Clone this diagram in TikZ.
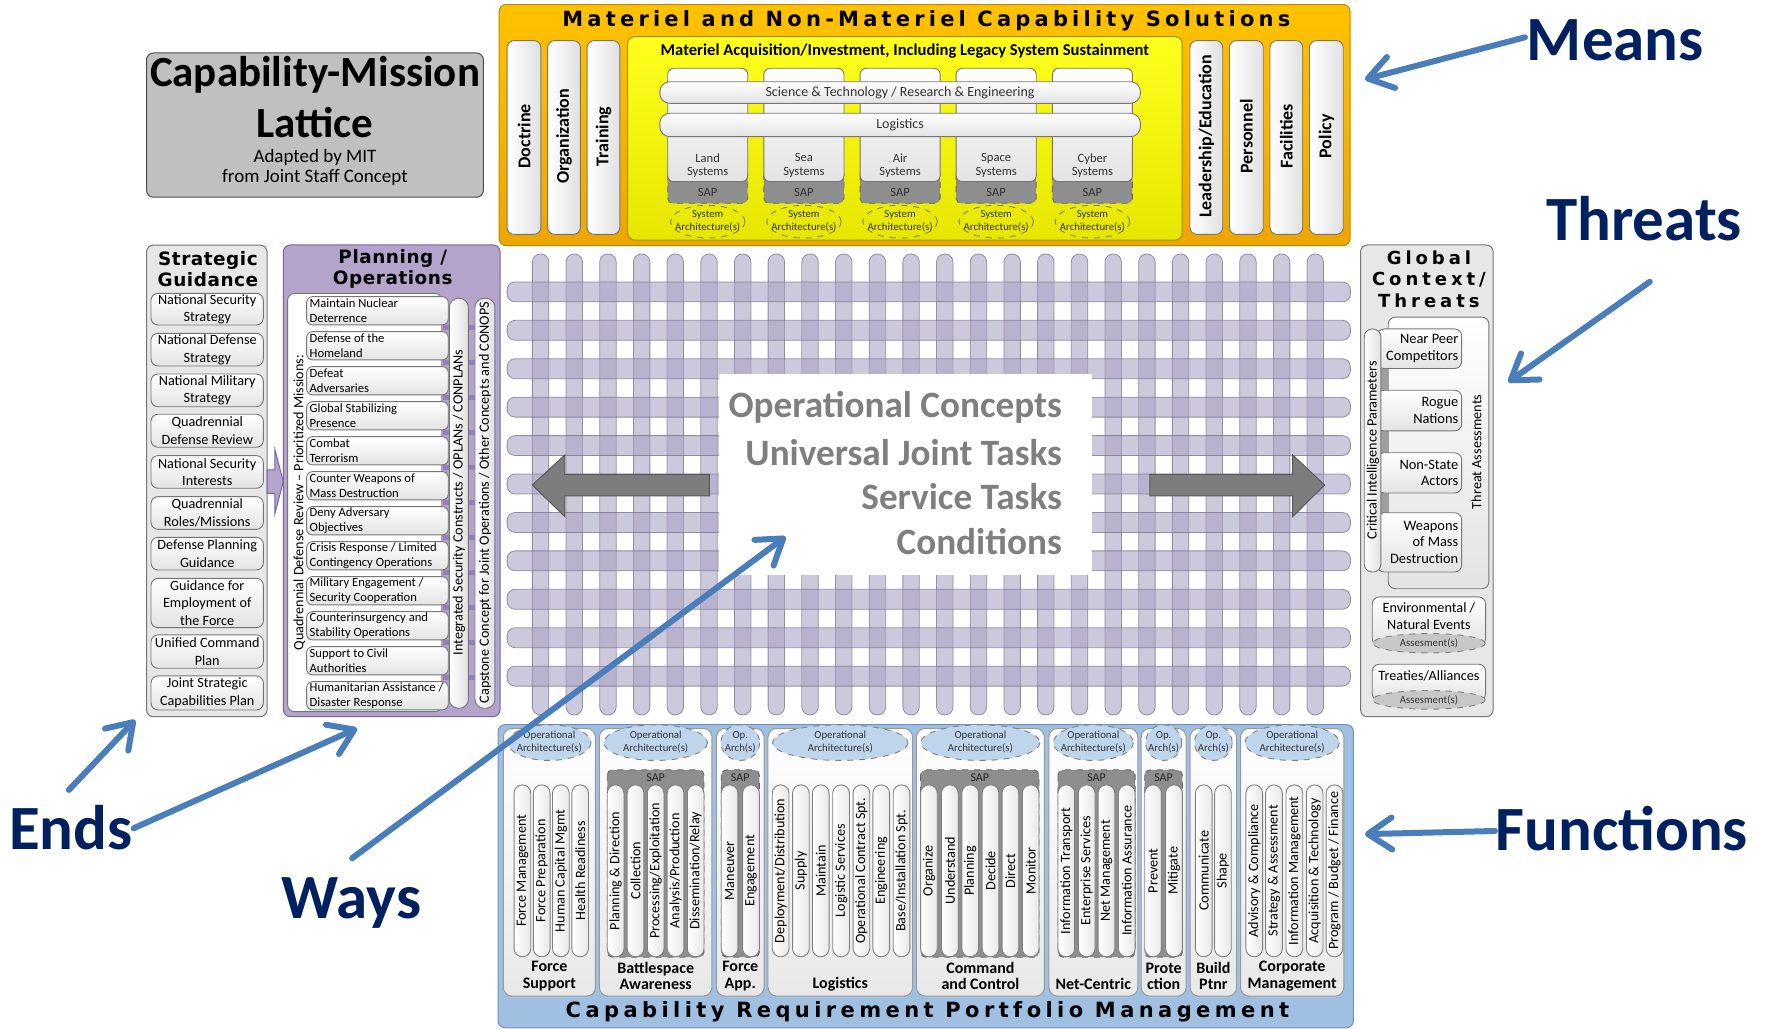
\documentclass[tikz,border=0pt]{standalone}
\usepackage{fontspec}
\setmainfont{Carlito}
\newfontfamily\vfont{DejaVu Sans}
\usetikzlibrary{arrows.meta}
\newcommand\fsz[2]{\fontsize{#1}{#2}\selectfont}

\definecolor{navy}{RGB}{0,32,96}
\definecolor{callout}{RGB}{74,126,187}
\definecolor{orangeT}{RGB}{255,194,0}
\definecolor{orangeB}{RGB}{238,166,0}
\definecolor{orangeE}{RGB}{190,135,0}
\definecolor{yellowT}{RGB}{255,255,30}
\definecolor{yellowB}{RGB}{230,230,0}
\definecolor{yellowE}{RGB}{150,150,0}
\definecolor{planpurple}{RGB}{180,164,204}
\definecolor{planedge}{RGB}{120,100,155}
\definecolor{linkpurple}{RGB}{150,126,190}
\definecolor{panelgray}{RGB}{231,231,231}
\definecolor{titlegray}{RGB}{192,192,192}
\definecolor{portblue}{RGB}{160,192,225}
\definecolor{portedge}{RGB}{110,145,190}
\definecolor{archblue}{RGB}{190,213,236}
\definecolor{sapgray}{RGB}{142,142,142}
\definecolor{latt}{RGB}{170,163,196}
\definecolor{lattedge}{RGB}{118,114,138}
\definecolor{edgegray}{RGB}{118,118,118}
\definecolor{concept}{RGB}{127,127,127}
\definecolor{arrowgray}{RGB}{125,125,125}

\tikzset{
  every node/.style={inner sep=0pt, outer sep=0pt},
  panel/.style={draw=edgegray, line width=0.5pt, rounded corners=3.5pt},
  shadedbox/.style={draw=edgegray, line width=0.45pt, top color=white, bottom color=black!11},
  sidebar/.style={draw=edgegray, line width=0.45pt, left color=white, right color=black!12},
  lattbar/.style={draw=lattedge, draw opacity=0.75, line width=0.4pt, fill=latt, fill opacity=0.58, rounded corners=4pt},
  sapbox/.style={draw=black!60, dashed, line width=0.45pt, fill=sapgray, rounded corners=2.5pt},
  dashell/.style={draw=black!50, dashed, line width=0.45pt},
  widehead/.style={font=\vfont\bfseries\fsz{10.5}{12}\addfontfeature{LetterSpace=20}},
  widefoot/.style={font=\vfont\bfseries\fsz{10.5}{12}\addfontfeature{LetterSpace=21}},
  panelhead/.style={font=\vfont\bfseries\fsz{9.2}{10.6}\addfontfeature{LetterSpace=3}, align=center},
  gchead/.style={font=\vfont\bfseries\fsz{9}{10.7}\addfontfeature{LetterSpace=22}, align=center},
  coltext/.style={font=\bfseries\fsz{9}{10}, rotate=90},
  systext/.style={font=\fsz{6.3}{6.6}, align=center, text=black!80},
  archtext/.style={font=\fsz{5.4}{6.5}, align=center, text=black!80},
  itemtext/.style={font=\fsz{7.1}{8.7}, align=center},
  missiontext/.style={font=\fsz{6.3}{7.5}, align=left, anchor=west},
  sidetext/.style={font=\fsz{7.1}{8}, rotate=90},
  threattext/.style={font=\fsz{7.2}{8.4}, align=right, anchor=east},
  pill/.style={draw=black!50, line width=0.45pt, left color=white, right color=black!9, rounded corners=4.1pt},
  pilltext/.style={font=\fsz{7.1}{8}, rotate=90},
  grpbox/.style={draw=black!40, line width=0.5pt, rounded corners=4.5pt, top color=white, bottom color=black!9},
  grplabel/.style={font=\bfseries\fsz{8}{8.2}, align=center},
  concepttext/.style={font=\bfseries\fsz{18.6}{20}, text=concept, anchor=east},
  biglabel/.style={font=\bfseries\fsz{31.5}{36}, text=navy, anchor=base west},
  callarrow/.style={draw=callout, line width=3pt, line cap=round,
    -{Straight Barb[length=12pt, width=16pt, round]}},
  grayarrow/.style={draw=black!65, line width=0.5pt, fill=arrowgray},
}

% a row of vertical function pills with rotated labels
\newcommand\pillrow[2]{%
  \foreach \pcx/\ptxt [count=\n] in {#2}{
    \draw[pill] (\pcx-7.4,696.5) rectangle (\pcx+7.4,849);
    \node[pilltext] (#1\n) at (\pcx,772.7) {\ptxt};
  }}

\begin{document}
\begin{tikzpicture}[x=0.5635pt, y=-0.5635pt]
\useasboundingbox (0,0) rectangle (1568,913);
\fill[white] (0,0) rectangle (1568,913);

% ---------- woven lattice ----------
\foreach \i in {0,...,23}{
  \pgfmathsetmacro\cx{479.7+29.89*\i}
  \draw[lattbar] (\cx-7.3,225.4) rectangle (\cx+7.3,634.4);
}
\foreach \j in {0,...,10}{
  \pgfmathsetmacro\cy{259+34.1*\j}
  \draw[lattbar] (450,\cy-8.85) rectangle (1198.3,\cy+8.85);
}
\fill[white] (637.6,331.9) rectangle (969.2,510.2);
\node[concepttext] (oc) at (942.3,361.5) {Operational Concepts};
\node[concepttext] (ujt) at (942.3,401.3) {Universal Joint Tasks};
\node[concepttext] (st) at (942.3,441) {Service Tasks};
\node[concepttext] (cond) at (942.3,480.8) {Conditions};
\draw[grayarrow] (472.4,430.4) -- (501.2,403.7) -- (501.2,420.9) -- (629.4,420.9)
  -- (629.4,440.1) -- (501.2,440.1) -- (501.2,458.4) -- cycle;
\draw[grayarrow] (1175.4,430.4) -- (1147.1,403.7) -- (1147.1,420.9) -- (1020.3,420.9)
  -- (1020.3,440.1) -- (1147.1,440.1) -- (1147.1,458.4) -- cycle;

% ---------- title block ----------
\draw[panel, draw=black!70, fill=titlegray] (130,47) rectangle (429,175);
\node[font=\bfseries\fsz{21.5}{24}] (cmA) at (279.5,66) {Capability-Mission};
\node[font=\bfseries\fsz{21.5}{24}] (cmB) at (279.5,109) {Lattice};
\node[font=\fsz{9.5}{9.8}, align=center] (cmC) at (279.5,148.5) {Adapted by MIT\\from Joint Staff Concept};

% ---------- means: materiel and non-materiel solutions ----------
\draw[panel, draw=orangeE, top color=orangeT, bottom color=orangeB] (443,4) rectangle (1198,218);
\node[widehead] (matTitle) at (822,18.5) {Materiel and Non-Materiel Capability Solutions};
\foreach \l/\r/\t [count=\k] in {450/480/Doctrine, 486/515/Organization, 521/550/Training,
    1056/1085/{Leadership/Education}, 1091/1121/Personnel, 1127/1156/Facilities, 1162/1192/Policy}{
  \draw[sidebar, rounded corners=3.5pt] (\l,36) rectangle (\r,208);
  \node[coltext] (dotm\k) at ({(\l+\r)/2},121) {\t};
}
\draw[panel, draw=yellowE, top color=yellowT, bottom color=yellowB] (557,32.5) rectangle (1049,213);
\node[font=\bfseries\fsz{8.3}{9}] (acqTitle) at (803,45.5)
  {Materiel Acquisition/Investment, Including Legacy System Sustainment};
\foreach \c/\n [count=\k] in {628/Land, 713.4/Sea, 798.7/Air, 884/Space, 969.4/Cyber}{
  \draw[sapbox] (\c-35.5,150) rectangle (\c+35.5,180.4);
  \draw[shadedbox, rounded corners=3pt] (\c-35.5,60.6) rectangle (\c+35.5,161.2);
  \node[systext] (sys\k) at (\c,146.8) {\n\\Systems};
  \node[systext] (sap\k) at (\c,171) {SAP};
  \draw[dashell] (\c,196.7) ellipse [x radius=33, y radius=14.5];
  \node[archtext] (sysarch\k) at (\c,196.2) {System\\Architecture(s)};
}
\draw[shadedbox, rounded corners=5pt] (585.5,72.5) rectangle (1012,91.7);
\node[font=\fsz{7}{8}, text=black!80] (sandt) at (798.7,82.2) {Science \& Technology / Research \& Engineering};
\draw[shadedbox, rounded corners=5pt] (585.5,100.5) rectangle (1012,121.3);
\node[font=\fsz{7}{8}, text=black!80] (logbar) at (798.7,110.9) {Logistics};

% ---------- ends: strategic guidance ----------
\draw[panel, fill=panelgray] (130,217.5) rectangle (237,636);
\node[panelhead] (sgTitle) at (184.5,238.5) {Strategic\\Guidance};
\foreach \a/\b/\t [count=\k] in {260.3/288.4/{National Security\\Strategy}, 295.8/324.8/{National Defense\\Strategy},
    331.9/360.9/{National Military\\Strategy}, 367.6/396.9/{Quadrennial\\Defense Review},
    404.3/433.3/{National Security\\Interests}, 440.7/469.7/{Quadrennial\\Roles/Missions},
    476.8/505.8/{Defense Planning\\Guidance}, 513.2/557/{Guidance for\\Employment of\\the Force},
    563.4/593/{Unified Command\\Plan}, 599.8/630/{Joint Strategic\\Capabilities Plan}}{
  \draw[shadedbox, rounded corners=3.5pt] (134,\a) rectangle (233.7,\b);
  \node[itemtext] (sg\k) at (183.9,{(\a+\b)/2}) {\t};
}
\draw[draw=planedge, line width=0.5pt, fill=planpurple] (237,417) -- (244,417) -- (244,399.3)
  -- (251.4,427.4) -- (244,455.5) -- (244,437.7) -- (237,437.7) -- cycle;

% ---------- ways: planning / operations ----------
\draw[panel, draw=planedge, fill=planpurple] (251.4,217.4) rectangle (443.7,636);
\node[panelhead] (poTitle) at (348.5,238.5) {Planning /\\Operations};
\draw[draw=edgegray, line width=0.45pt, fill=white, rounded corners=3.5pt] (255.2,260.3) rectangle (392,631.5);
\node[sidetext] (qdr) at (265.6,446) {Quadrennial Defense Review \textendash{} Prioritized Missions:};
\foreach \n in {0,...,10}{
  \pgfmathsetmacro\lk{263.2+31.06*\n+25.1}
  \fill[linkpurple] (393.4,\lk) rectangle (399,\lk+4.5);
  \fill[linkpurple] (415.4,\lk) rectangle (421.8,\lk+4.5);
}
\foreach \mtxt [count=\n from 0] in {{Maintain Nuclear\\Deterrence}, {Defense of the\\Homeland},
    {Defeat\\Adversaries}, {Global Stabilizing\\Presence}, {Combat\\Terrorism},
    {Counter Weapons of\\Mass Destruction}, {Deny Adversary\\Objectives},
    {Crisis Response / Limited\\Contingency Operations}, {Military Engagement /\\Security Cooperation},
    {Counterinsurgency and\\Stability Operations}, {Support to Civil\\Authorities},
    {Humanitarian Assistance /\\Disaster Response}}{
  \pgfmathsetmacro\mtop{263.2+31.06*\n}
  \draw[shadedbox, rounded corners=3pt] (272.1,\mtop) rectangle (397.8,\mtop+25.1);
  \node[missiontext] (mis\n) at (274.8,\mtop+12.6) {\mtxt};
}
\draw[sidebar, rounded corners=4.5pt] (398.7,264.7) rectangle (415.6,628.5);
\node[sidetext] (isc) at (407.2,446) {Integrated Security Constructs / OPLANs / CONPLANs};
\draw[sidebar, rounded corners=4.5pt] (421.5,264.7) rectangle (439.2,628.5);
\node[sidetext] (ccjo) at (430.4,446) {Capstone Concept for Joint Operations / Other Concepts and CONOPS};

% ---------- threats: global context ----------
\draw[panel, fill=panelgray] (1207.3,217.4) rectangle (1325,636);
\node[gchead] (gcTitle) at (1268,247.8) {Global\\Context/\\Threats};
\draw[shadedbox, rounded corners=3.5pt] (1231.9,281.4) rectangle (1321.2,522.4);
\node[sidetext] (thra) at (1310.3,401) {Threat Assessments};
\fill[black!38] (1224,300) rectangle (1232,500);
\foreach \a/\b/\t [count=\k] in {291.9/327/{Near Peer\\Competitors}, 346.3/382.4/{Rogue\\Nations},
    401.8/437.5/{Non-State\\Actors}, 455/507.6/{Weapons\\of Mass\\Destruction}}{
  \draw[shadedbox, rounded corners=3.5pt] (1222,\a) rectangle (1297,\b);
  \node[threattext] (thr\k) at (1294,{(\a+\b)/2}) {\t};
}
\draw[sidebar, rounded corners=4pt] (1210.6,291.9) rectangle (1225.4,507.6);
\node[sidetext] (cip) at (1218.2,399.5) {Critical Intelligence Parameters};
\draw[shadedbox, rounded corners=3.5pt] (1217.7,529.7) rectangle (1318.3,572.6);
\draw[dashell, fill=black!22] (1268,570.8) ellipse [x radius=50, y radius=8.6];
\node[font=\fsz{7.1}{8.5}, align=center] (env) at (1268,547) {Environmental /\\Natural Events};
\node[archtext] (envA) at (1268,571) {Assesment(s)};
\draw[shadedbox, rounded corners=3.5pt] (1217.7,589.4) rectangle (1318.3,621.7);
\draw[dashell, fill=black!22] (1268,621) ellipse [x radius=50, y radius=8.3];
\node[font=\fsz{7.1}{8.5}] (treaty) at (1268,600.1) {Treaties/Alliances};
\node[archtext] (treA) at (1268,621.3) {Assesment(s)};

% ---------- functions: capability requirement portfolio management ----------
\draw[panel, draw=portedge, fill=portblue] (442,643) rectangle (1201,912);
\node[widefoot] (crpmTitle) at (823,897.7) {Capability Requirement Portfolio Management};
\foreach \l/\r/\ly/\lab/\arch [count=\k] in {
    446.6/528.4/866.2/{Force\\Support}/{Operational\\Architecture(s)},
    531.9/631.8/866.2/{Battlespace\\Awareness}/{Operational\\Architecture(s)},
    635.7/678.1/866.2/{Force\\App.}/{Op.\\Arch(s)},
    681.5/809.8/873.5/{Logistics}/{Operational\\Architecture(s)},
    813.2/926.8/866.2/{Command\\and Control}/{Operational\\Architecture(s)},
    930.7/1009.7/873.5/{Net-Centric}/{Operational\\Architecture(s)},
    1012.6/1052.6/866.2/{Prote\\ction}/{Op.\\Arch(s)},
    1056/1097.4/866.2/{Build\\Ptnr}/{Op.\\Arch(s)},
    1100.8/1192.5/866.2/{Corporate\\Management}/{Operational\\Architecture(s)}}{
  \pgfmathsetmacro\gc{(\l+\r)/2}
  \pgfmathsetmacro\grx{(\r-\l)/2-4}
  \draw[grpbox] (\l,646.3) rectangle (\r,884);
  \draw[dashell, fill=archblue] (\gc,659) ellipse [x radius=\grx, y radius=15.8];
  \node[archtext] (oa\k) at (\gc,658.6) {\arch};
  \node[grplabel] (fg\k) at (\gc,\ly) {\lab};
}
\foreach \l/\r [count=\k] in {538.9/624.7, 640/673.8, 816.9/922, 938.8/1007.3, 1015.8/1049.2}{
  \draw[sapbox] (\l,683.2) rectangle (\r,849.4);
  \node[font=\fsz{6}{7}, text=black!85] (fsap\k) at ({(\l+\r)/2},689.8) {SAP};
}
\pillrow{fs}{463.6/{Force Management}, 480.7/{Force Preparation}, 497.7/{Human Capital Mgmt}, 514.8/{Health Readiness}}
\pillrow{ba}{546.3/{Planning \& Direction}, 564/{Collection}, 581.8/{Processing/Exploitation}, 599.5/{Analysis/Production}, 617.3/{Dissemination/Relay}}
\pillrow{fa}{647.4/{Maneuver}, 666.4/{Engagement}}
\pillrow{lg}{692.7/{Deployment/Distribution}, 710.7/{Supply}, 728.3/{Maintain}, 746.4/{Logistic Services}, 764.4/{Operational Contract Spt.}, 782/{Engineering}, 800/{Base/Installation Spt.}}
\pillrow{cc}{824.3/{Organize}, 842.9/{Understand}, 860.9/{Planning}, 879/{Decide}, 896.6/{Direct}, 914.6/{Monitor}}
\pillrow{nc}{946.2/{Information Transport}, 964.3/{Enterprise Services}, 981.8/{Net Management}, 999.9/{Information Assurance}}
\pillrow{pr}{1023.2/{Prevent}, 1041.8/{Mitigate}}
\pillrow{bp}{1068.2/{Communicate}, 1085.2/{Shape}}
\pillrow{cm}{1113/{Advisory \& Compliance}, 1130.5/{Strategy \& Assessment}, 1148.6/{Information Management}, 1166.6/{Acquisition \& Technology}, 1184.2/{Program / Budget / Finance}}

% ---------- ends / ways / means / threats / functions call-outs ----------
\node[biglabel] (means) at (1355,53.8) {Means};
\node[biglabel] (threats) at (1372,213.5) {Threats};
\node[biglabel] (functions) at (1327,755) {Functions};
\node[biglabel] (ends) at (8,754) {Ends};
\node[biglabel] (ways) at (250,815) {Ways};

\coordinate (meansTail) at (1353.2,33.1);  \coordinate (meansTip) at (1211.2,70.4);
\coordinate (threatsTail) at (1464,250);   \coordinate (threatsTip) at (1338.4,339);
\coordinate (funcTail) at (1326.6,737.4);  \coordinate (funcTip) at (1211.2,740.2);
\coordinate (endsTailA) at (61.1,701);     \coordinate (endsTipA) at (120,638.9);
\coordinate (endsTailB) at (118.6,735);    \coordinate (endsTipB) at (316.9,646.3);
\coordinate (waysTail) at (312.4,761.6);   \coordinate (waysTip) at (697.2,476.2);
\draw[callarrow] (meansTail) -- (meansTip);
\draw[callarrow] (threatsTail) -- (threatsTip);
\draw[callarrow] (funcTail) -- (funcTip);
\draw[callarrow] (endsTailA) -- (endsTipA);
\draw[callarrow] (endsTailB) -- (endsTipB);
\draw[callarrow] (waysTail) -- (waysTip);
\end{tikzpicture}
\end{document}
